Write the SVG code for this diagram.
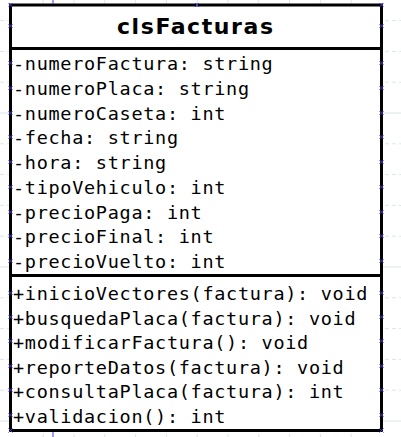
<svg xmlns="http://www.w3.org/2000/svg" width="401" height="437" viewBox="0 0 401 437">
<style>
.grid line{stroke:#dbe7e7;stroke-width:1}
.d{stroke-dasharray:4 3}
.box{fill:#fff;stroke:#000;stroke-width:3}
.sep{stroke:#000;stroke-width:3}
.t{font-family:"DejaVu Sans Mono","Liberation Mono",monospace;font-size:18.5px;letter-spacing:0.7px;fill:#000}
.title{font-family:"DejaVu Sans","Liberation Sans",sans-serif;font-weight:bold;font-size:22px;fill:#000}
.mk{stroke:#3a3ad0;stroke-width:1;fill:none}
</style>
<defs>
<path id="x" class="mk" d="M-2,-2L2,2M2,-2L-2,2"/>
</defs>
<g class="grid">
<line class="d" x1="0" y1="20.6" x2="401" y2="20.6"/>
<line class="d" x1="0" y1="51.4" x2="401" y2="51.4"/>
<line class="d" x1="0" y1="82.2" x2="401" y2="82.2"/>
<line x1="0" y1="113" x2="401" y2="113"/>
<line class="d" x1="0" y1="143.8" x2="401" y2="143.8"/>
<line class="d" x1="0" y1="174.6" x2="401" y2="174.6"/>
<line class="d" x1="0" y1="205.4" x2="401" y2="205.4"/>
<line class="d" x1="0" y1="236.2" x2="401" y2="236.2"/>
<line x1="0" y1="267" x2="401" y2="267"/>
<line class="d" x1="0" y1="297.8" x2="401" y2="297.8"/>
<line class="d" x1="0" y1="328.6" x2="401" y2="328.6"/>
<line class="d" x1="0" y1="359.4" x2="401" y2="359.4"/>
<line class="d" x1="0" y1="390.2" x2="401" y2="390.2"/>
<line x1="0" y1="421" x2="401" y2="421"/>
<line class="d" x1="43.2" y1="0" x2="43.2" y2="437"/>
<line class="d" x1="74" y1="0" x2="74" y2="437"/>
<line class="d" x1="104.8" y1="0" x2="104.8" y2="437"/>
<line class="d" x1="135.6" y1="0" x2="135.6" y2="437"/>
<line class="d" x1="166.4" y1="0" x2="166.4" y2="437"/>
<line class="d" x1="197.2" y1="0" x2="197.2" y2="437"/>
<line class="d" x1="228" y1="0" x2="228" y2="437"/>
<line class="d" x1="258.8" y1="0" x2="258.8" y2="437"/>
<line class="d" x1="289.6" y1="0" x2="289.6" y2="437"/>
<line class="d" x1="320.4" y1="0" x2="320.4" y2="437"/>
<line class="d" x1="351.2" y1="0" x2="351.2" y2="437"/>
</g>
<g id="connectors"></g>
<g id="clsFacturas">
<rect class="box" x="10.5" y="5" width="371" height="425.5"/>
<line class="sep" x1="10.5" y1="48.5" x2="381.5" y2="48.5"/>
<line class="sep" x1="10.5" y1="275.5" x2="381.5" y2="275.5"/>
<text class="title" x="117" y="34" textLength="156" lengthAdjust="spacing">clsFacturas</text>
<text class="t" x="13" y="70">-numeroFactura: string</text>
<text class="t" x="13" y="94.75">-numeroPlaca: string</text>
<text class="t" x="13" y="119.5">-numeroCaseta: int</text>
<text class="t" x="13" y="144.25">-fecha: string</text>
<text class="t" x="13" y="169">-hora: string</text>
<text class="t" x="13" y="193.75">-tipoVehiculo: int</text>
<text class="t" x="13" y="218.5">-precioPaga: int</text>
<text class="t" x="13" y="243.25">-precioFinal: int</text>
<text class="t" x="13" y="268">-precioVuelto: int</text>
<text class="t" x="13" y="300">+inicioVectores(factura): void</text>
<text class="t" x="13" y="324.5">+busquedaPlaca(factura): void</text>
<text class="t" x="13" y="349">+modificarFactura(): void</text>
<text class="t" x="13" y="373.5">+reporteDatos(factura): void</text>
<text class="t" x="13" y="398">+consultaPlaca(factura): int</text>
<text class="t" x="13" y="422.5">+validacion(): int</text>
</g>
<g id="handles">
<line class="mk" x1="53" y1="0" x2="53" y2="4"/>
<line class="mk" x1="53" y1="432" x2="53" y2="437"/>
<use href="#x" x="10.5" y="5"/><use href="#x" x="197" y="5"/><use href="#x" x="381.5" y="5"/>
<use href="#x" x="10.5" y="26"/><use href="#x" x="381.5" y="26"/>
<use href="#x" x="10.5" y="63"/><use href="#x" x="381.5" y="63"/>
<use href="#x" x="10.5" y="88"/><use href="#x" x="381.5" y="88"/>
<use href="#x" x="10.5" y="113"/><use href="#x" x="381.5" y="113"/>
<use href="#x" x="10.5" y="137"/><use href="#x" x="381.5" y="137"/>
<use href="#x" x="10.5" y="162"/><use href="#x" x="381.5" y="162"/>
<use href="#x" x="10.5" y="187"/><use href="#x" x="381.5" y="187"/>
<use href="#x" x="10.5" y="212"/><use href="#x" x="381.5" y="212"/>
<use href="#x" x="10.5" y="236"/><use href="#x" x="381.5" y="236"/>
<use href="#x" x="10.5" y="261"/><use href="#x" x="381.5" y="261"/>
<use href="#x" x="10.5" y="293"/><use href="#x" x="381.5" y="293"/>
<use href="#x" x="10.5" y="317"/><use href="#x" x="381.5" y="317"/>
<use href="#x" x="10.5" y="341"/><use href="#x" x="381.5" y="341"/>
<use href="#x" x="10.5" y="366"/><use href="#x" x="381.5" y="366"/>
<use href="#x" x="10.5" y="390"/><use href="#x" x="381.5" y="390"/>
<use href="#x" x="10.5" y="415"/><use href="#x" x="381.5" y="415"/>
<use href="#x" x="10.5" y="430.5"/><use href="#x" x="381.5" y="430.5"/>
</g>
</svg>
